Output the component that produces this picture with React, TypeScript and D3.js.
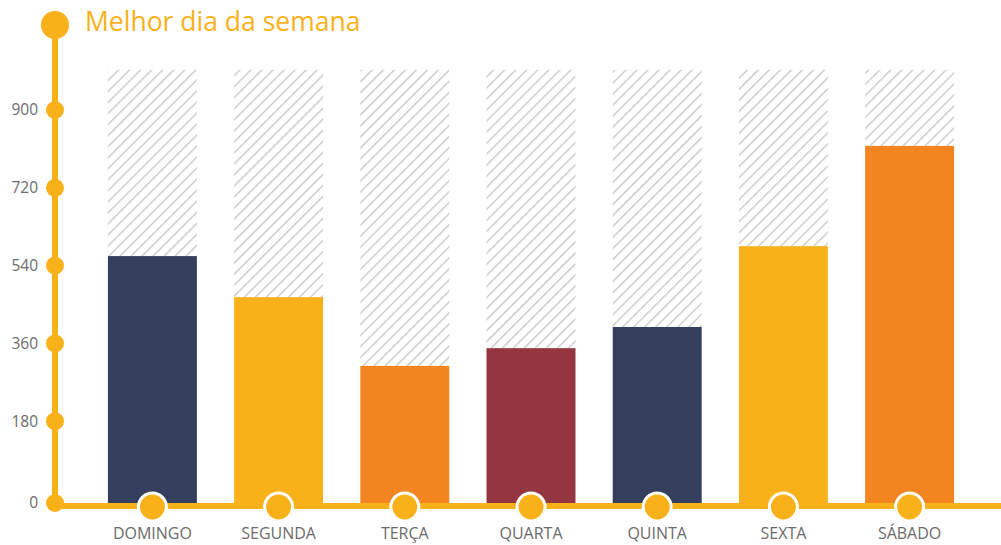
import React, { useRef, useEffect } from 'react'
import * as d3 from 'd3'

const days = ['DOMINGO', 'SEGUNDA', 'TERÇA', 'QUARTA', 'QUINTA', 'SEXTA', 'SÁBADO']
const values = [562, 467, 308, 349, 398, 585, 817]
const barColors = ['#343f5e', '#f9b11a', '#f38520', '#933640', '#343f5e', '#f9b11a', '#f38520']
const maxValue = 993
const yTicks = [0, 180, 360, 540, 720, 900]
const title = 'Melhor dia da semana'

const yellow = '#f9b11a'
const gray = '#6b6b6b'

function App() {
  const svgRef = useRef<SVGSVGElement>(null)

  useEffect(() => {
    const width = 1001
    const height = 545
    const svg = d3.select(svgRef.current)
    svg.selectAll('*').remove()
    svg.attr('width', width).attr('height', height)

    const font = "'Open Sans', sans-serif"

    // hatch pattern for the background bars
    const defs = svg.append('defs')
    const pat = defs.append('pattern')
      .attr('id', 'hatch')
      .attr('patternUnits', 'userSpaceOnUse')
      .attr('width', 7.8)
      .attr('height', 7.8)
      .attr('patternTransform', 'rotate(45)')
    pat.append('line')
      .attr('x1', 0).attr('y1', 0)
      .attr('x2', 0).attr('y2', 7.8)
      .style('stroke', '#c4c4c4')
      .style('stroke-width', 2.6)

    const axisX = 55
    const baseY = 503

    const x = d3.scaleBand()
      .domain(days)
      .range([77, 985])
      .paddingInner(0.295)
      .paddingOuter(0.245)

    const y = d3.scaleLinear()
      .domain([0, 900])
      .range([499, 110])

    // background hatched bars
    svg.append('g')
      .selectAll('rect')
      .data(days)
      .join('rect')
      .attr('x', d => x(d)!)
      .attr('y', y(maxValue))
      .attr('width', x.bandwidth())
      .attr('height', (d, i) => y(values[i]) - y(maxValue))
      .style('fill', 'url(#hatch)')

    // horizontal axis line
    svg.append('line')
      .attr('x1', axisX).attr('x2', width)
      .attr('y1', baseY + 3).attr('y2', baseY + 3)
      .style('stroke', yellow)
      .style('stroke-width', 6)

    // value bars
    svg.append('g')
      .selectAll('rect')
      .data(values)
      .join('rect')
      .attr('x', (d, i) => x(days[i])!)
      .attr('y', d => y(d))
      .attr('width', x.bandwidth())
      .attr('height', d => baseY - y(d))
      .style('fill', (d, i) => barColors[i])

    // vertical axis
    svg.append('line')
      .attr('x1', axisX).attr('x2', axisX)
      .attr('y1', 25).attr('y2', baseY + 6)
      .style('stroke', yellow)
      .style('stroke-width', 6)

    svg.append('circle')
      .attr('cx', axisX).attr('cy', 25).attr('r', 14)
      .style('fill', yellow)

    const tick = svg.append('g')
      .selectAll('g')
      .data(yTicks)
      .join('g')
      .attr('transform', d => `translate(${axisX},${d === 0 ? baseY : y(d)})`)
    tick.append('circle')
      .attr('r', 9)
      .style('fill', yellow)
    tick.append('text')
      .attr('x', -17)
      .attr('dy', '0.35em')
      .attr('text-anchor', 'end')
      .style('font-family', font)
      .style('font-size', '15.5px')
      .style('fill', gray)
      .text(d => d)

    // x markers and labels
    const xl = svg.append('g')
      .selectAll('g')
      .data(days)
      .join('g')
      .attr('transform', d => `translate(${x(d)! + x.bandwidth() / 2},${baseY + 4})`)
    xl.append('circle')
      .attr('r', 14)
      .style('fill', yellow)
      .style('stroke', '#fff')
      .style('stroke-width', 3)
    xl.append('text')
      .attr('y', 32)
      .attr('text-anchor', 'middle')
      .style('font-family', font)
      .style('font-size', '16px')
      .style('fill', gray)
      .text(d => d)

    svg.append('text')
      .attr('x', 85)
      .attr('y', 31)
      .style('font-family', font)
      .style('font-size', '26.5px')
      .style('fill', yellow)
      .text(title)
  }, [])

  return (
    <div style={{ position: 'absolute', left: 0, top: 0 }}>
      <svg ref={svgRef} style={{ display: 'block' }}></svg>
    </div>
  )
}

export default App
